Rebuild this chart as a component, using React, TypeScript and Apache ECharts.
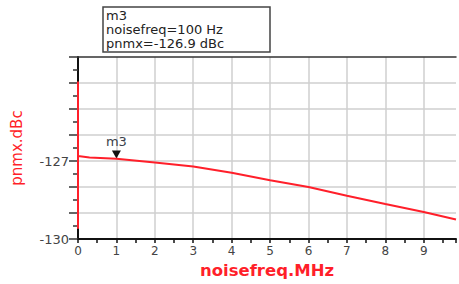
import React, { useEffect, useRef } from "react";
import * as echarts from "echarts";

const freqMHz = [0, 0, 0, 0.3, 1, 2, 3, 4, 5, 6, 7, 8, 9, 9.84];
const pnmxDbc = [-123.94, -129.6, -126.81, -126.86, -126.91, -127.06, -127.21, -127.45, -127.74, -128.0, -128.33, -128.65, -128.96, -129.25];
const yLabelsShown = [-127, -130];
const markerX = 1;
const markerY = -126.9;
const markerName = "m3";
const boxLines = ["m3", "noisefreq=100 Hz", "pnmx=-126.9 dBc"];

export default function App() {
  const ref = useRef<HTMLDivElement>(null);
  useEffect(() => {
    if (!ref.current) return;
    const chart = echarts.init(ref.current, undefined, { renderer: "svg" });
    const font = "DejaVu Sans";
    chart.setOption({
      animation: false,
      backgroundColor: "#ffffff",
      grid: {
        left: 78,
        right: 0,
        top: 57,
        bottom: 41,
      },
      xAxis: [
        {
          type: "value",
          min: 0,
          max: 9.84,
          interval: 1,
          name: "noisefreq.MHz",
          nameLocation: "middle",
          nameGap: 22,
          nameTextStyle: { color: "#ff1f2a", fontSize: 16.5, fontWeight: "bold", fontFamily: font },
          axisLine: { show: true, lineStyle: { color: "#111", width: 2 } },
          axisTick: { show: true, length: 4, lineStyle: { color: "#111", width: 1.5 } },
          minorTick: { show: true, splitNumber: 2, length: 4, lineStyle: { color: "#111", width: 1.5 } },
          axisLabel: {
            color: "#444",
            fontSize: 12,
            fontFamily: font,
            margin: 6,
            formatter: (v: number) => (Math.abs(v - Math.round(v)) < 1e-6 ? String(Math.round(v)) : ""),
          },
          splitLine: { show: true, showMaxLine: false, lineStyle: { color: "#cfcfcf", width: 1.5 } },
        },
        {
          type: "value",
          position: "top",
          min: 0,
          max: 9.84,
          interval: 1,
          axisLine: { show: true, lineStyle: { color: "#333", width: 1.5 } },
          axisTick: { show: false },
          axisLabel: { show: false },
          splitLine: { show: false },
        },
      ],
      yAxis: {
        type: "value",
        min: -130,
        max: -123,
        interval: 1,
        name: "pnmx.dBc",
        nameLocation: "middle",
        nameGap: 54,
        nameTextStyle: { color: "#ff1f2a", fontSize: 15, fontFamily: font },
        axisLine: { show: true, lineStyle: { color: "#111", width: 2 } },
        axisTick: { show: true, length: 9, lineStyle: { color: "#333", width: 1.5 } },
        minorTick: { show: true, splitNumber: 2, length: 5, lineStyle: { color: "#333", width: 1.5 } },
        axisLabel: {
          color: "#444",
          fontSize: 13,
          fontFamily: font,
          margin: 9,
          formatter: (v: number) => (yLabelsShown.includes(Math.round(v)) && Math.abs(v - Math.round(v)) < 1e-6 ? String(v) : ""),
        },
        splitLine: { show: true, showMaxLine: false, showMinLine: false, lineStyle: { color: "#cfcfcf", width: 1.5 } },
      },
      series: [
        {
          type: "line",
          data: freqMHz.map((f, i) => [f, pnmxDbc[i]]),
          showSymbol: false,
          lineStyle: { color: "#ff1f2a", width: 2 },
          clip: true,
          z: 5,
          markPoint: {
            symbol: "triangle",
            symbolRotate: 180,
            symbolSize: [9, 8],
            symbolOffset: [0, -4],
            itemStyle: { color: "#111" },
            label: {
              show: true,
              position: "top",
              distance: 2,
              color: "#3a3f4a",
              fontSize: 13,
              fontFamily: font,
              formatter: markerName,
            },
            data: [{ coord: [markerX, markerY] }],
          },
        },
      ],
      graphic: [
        {
          type: "rect",
          shape: { x: 103, y: 7, width: 167, height: 45 },
          style: { fill: "#fff", stroke: "#444", lineWidth: 1.5 },
          z: 10,
        },
        ...boxLines.map((t, i) => ({
          type: "text",
          x: 106,
          y: 9 + i * 14,
          style: { text: t, fill: "#222", font: `13px ${font}` },
          z: 11,
        })),
      ],
    });
    return () => chart.dispose();
  }, []);
  return <div ref={ref} style={{ position: "fixed", left: 0, top: 0, width: 459, height: 284 }} />;
}
